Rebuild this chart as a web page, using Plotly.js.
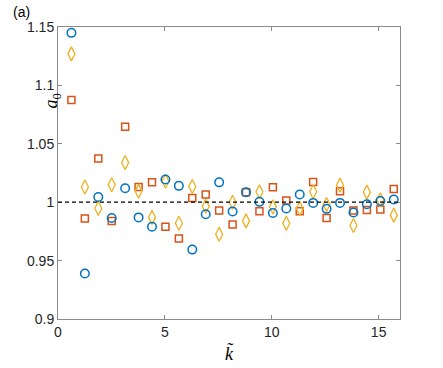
<!DOCTYPE html>
<html>
<head>
<meta charset="utf-8">
<script src="https://cdn.plot.ly/plotly-3.0.1.min.js"></script>
<style>html,body{margin:0;padding:0;background:#fff;}#chart{width:443px;height:368px;}</style>
</head>
<body>
<div id="chart"></div>
<script>
var nIndex = [1,2,3,4,5,6,7,8,9,10,11,12,13,14,15,16,17,18,19,20,21,22,23,24,25];
var kStep = 0.6283;
var circleVals = [1.145,0.939,1.0045,0.9865,1.012,0.987,0.979,1.0195,1.014,0.9594,0.9897,1.017,0.992,1.0086,1.0003,0.9908,0.9946,1.0066,0.9994,0.9943,0.9994,0.9912,0.9983,1.0011,1.0023];
var squareVals = [1.0875,0.986,1.0375,0.984,1.0646,1.013,1.017,0.979,0.969,1.0037,1.0066,0.993,0.981,1.0086,0.9923,1.0129,1.0015,0.9923,1.0174,0.9865,1.0094,0.9929,0.9934,0.9937,1.0114];
var diamondVals = [1.127,1.013,0.9946,1.015,1.034,1.0095,0.987,1.018,0.982,1.0135,0.9966,0.9726,1.000,0.984,1.0089,0.996,0.982,0.9946,1.0089,0.998,1.0146,0.980,1.0086,1.002,0.9889];
var xTicks = [0,5,10,15];
var yTicks = [0.9,0.95,1,1.05,1.1,1.15];
var yTickText = ['0.9','0.95','1','1.05','1.1','1.15'];

var kx = nIndex.map(function(n){return n*kStep;});

var traces = [
  {x: kx, y: squareVals, mode:'markers', type:'scatter',
   marker:{symbol:'square-open', size:7, color:'#D95319', line:{width:1.5, color:'#D95319'}}},
  {x: kx, y: diamondVals, mode:'markers', type:'scatter',
   marker:{symbol:'diamond-tall-open', size:10, color:'#EDB120', line:{width:1.3, color:'#EDB120'}}},
  {x: kx, y: circleVals, mode:'markers', type:'scatter',
   marker:{symbol:'circle-open', size:8.5, color:'#0072BD', line:{width:1.5, color:'#0072BD'}}}
];

var axisCommon = {
  showgrid:false, zeroline:false, showline:true, mirror:'ticks',
  linecolor:'#8a8a8a', linewidth:1, ticks:'inside', ticklen:4, tickwidth:1, tickcolor:'#8a8a8a',
  tickfont:{family:'Liberation Sans, Arial, sans-serif', size:14, color:'#262626'}
};

var layout = {
  width:443, height:368,
  margin:{l:58, r:43, t:27, b:49},
  paper_bgcolor:'#fff', plot_bgcolor:'#fff',
  showlegend:false,
  xaxis: Object.assign({}, axisCommon, {range:[0,16], tickmode:'array', tickvals:xTicks, ticktext:xTicks.map(String)}),
  yaxis: Object.assign({}, axisCommon, {range:[0.9,1.15], tickmode:'array', tickvals:yTicks, ticktext:yTickText}),
  shapes:[{type:'line', xref:'paper', x0:0, x1:1, yref:'y', y0:1, y1:1,
           line:{color:'#000', width:1.3, dash:'4px,3px'}}],
  annotations:[
    {text:'(a)', xref:'paper', yref:'paper', x:-0.138, y:1.085, xanchor:'left', yanchor:'top', showarrow:false,
     font:{family:'Liberation Sans, Arial, sans-serif', size:14, color:'#000'}},
    {text:'<i>a</i><sub>0</sub>', xref:'paper', yref:'paper', x:-0.055, y:0.78, showarrow:false,
     textangle:-90, font:{family:'Liberation Serif, DejaVu Serif, serif', size:18, color:'#000'}},
    {text:'<i>k\u0303</i>', xref:'paper', yref:'paper', x:0.5, y:-0.16, showarrow:false,
     font:{family:'Liberation Serif, DejaVu Serif, serif', size:18, color:'#000'}}
  ]
};

Plotly.newPlot('chart', traces, layout, {staticPlot:true, displayModeBar:false});
</script>
</body>
</html>
